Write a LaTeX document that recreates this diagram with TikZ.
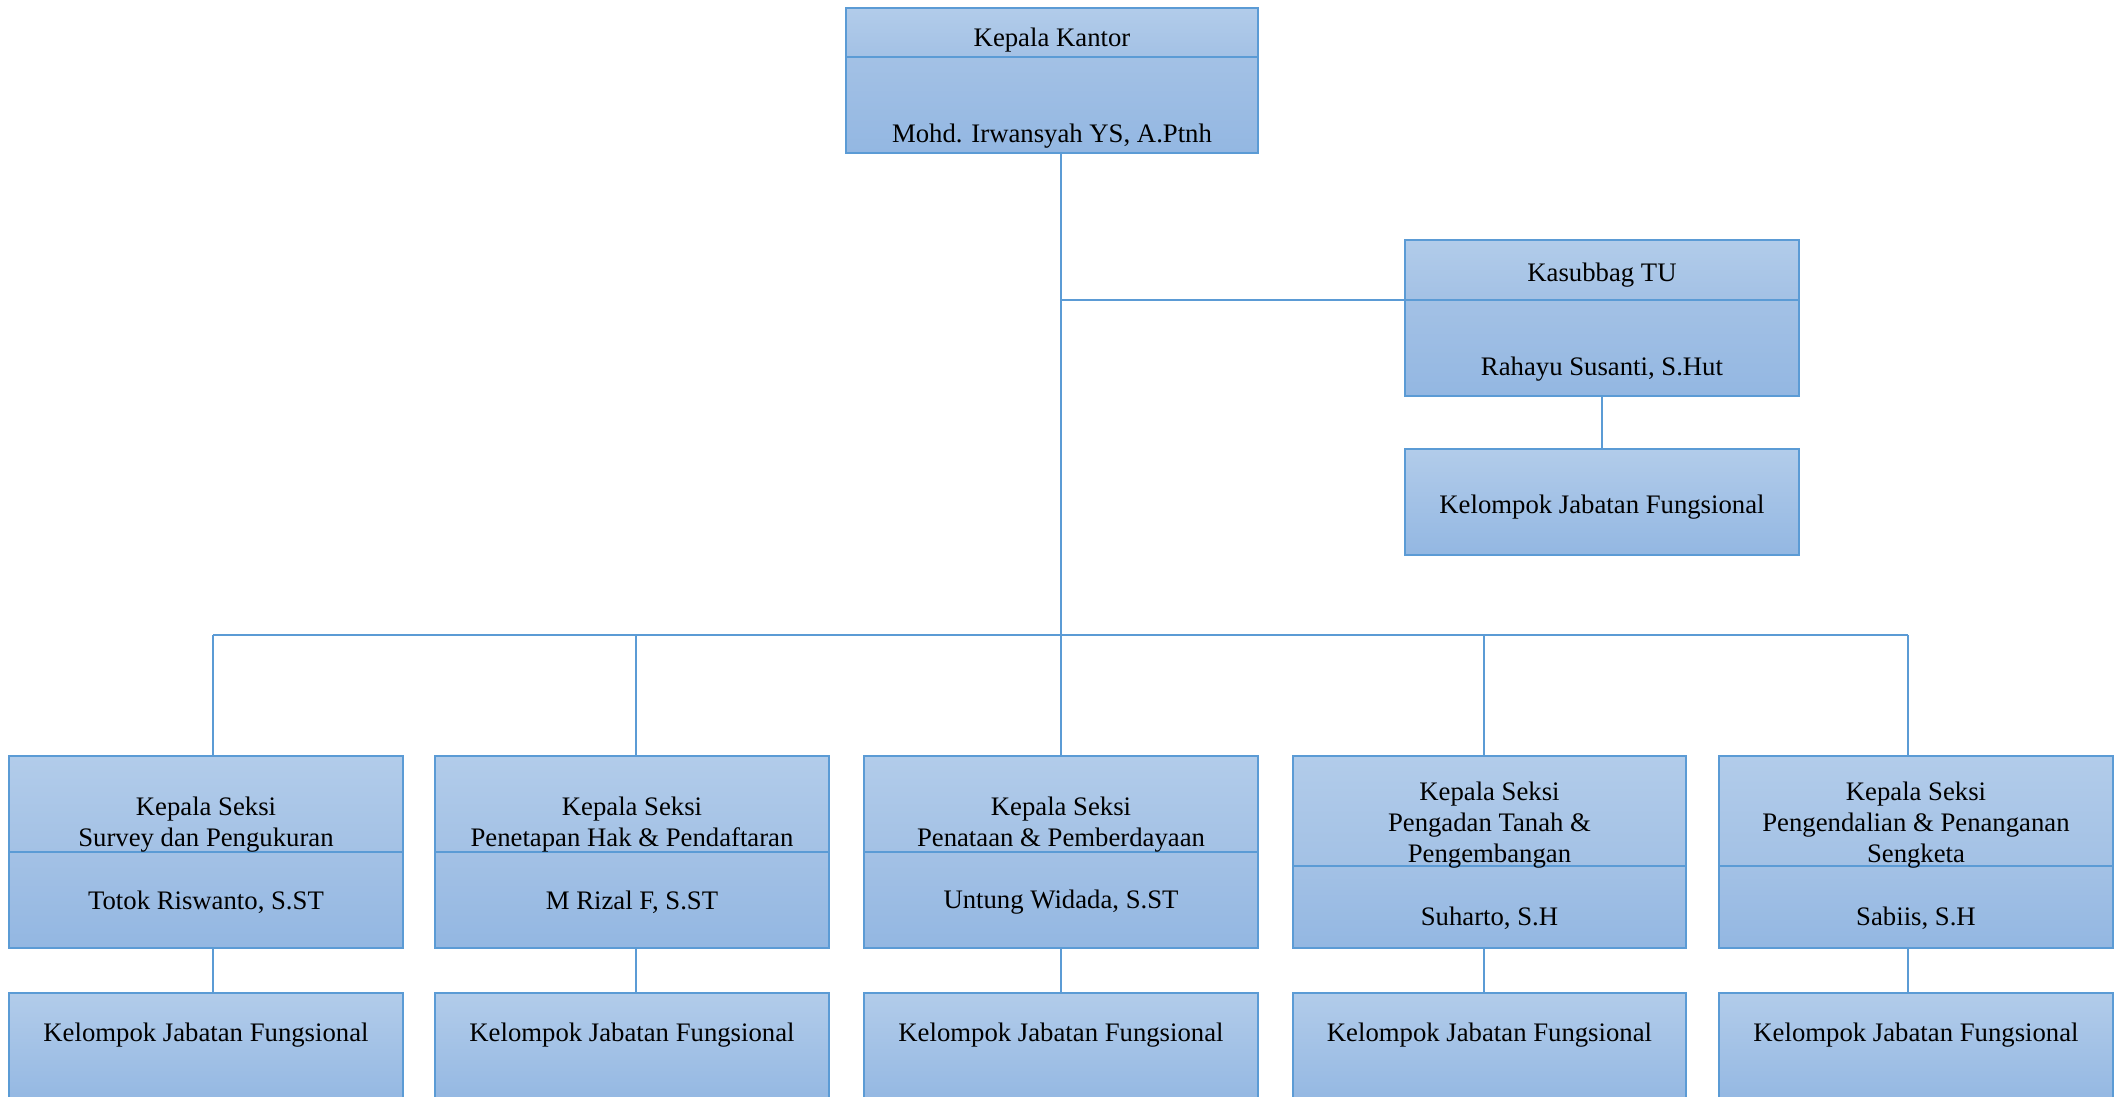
\documentclass[tikz,border=0pt]{standalone}
\usepackage{fontspec}
\setmainfont{Liberation Serif}
\usetikzlibrary{positioning}
\definecolor{boxtop}{RGB}{178,204,234}
\definecolor{boxmid}{RGB}{163,193,229}
\definecolor{boxbot}{RGB}{147,183,226}
\definecolor{boxline}{RGB}{91,155,213}

\begin{document}
\begin{tikzpicture}[
    x=0.01cm, y=-0.01cm,
    part/.style={draw=boxline, line width=0.6pt, minimum width=3.93cm, inner sep=0pt, outer sep=0pt},
    upper/.style={part, top color=boxtop, bottom color=boxmid},
    lower/.style={part, top color=boxmid, bottom color=boxbot},
    whole/.style={part, top color=boxtop, bottom color=boxbot},
    txt/.style={align=center, font=\fontsize{7.6}{8.8}\selectfont, inner sep=0pt, yshift=-0.03cm},
    link/.style={draw=boxline, line width=0.5pt}
]
\useasboundingbox (0,0) rectangle (2123,1097);
\clip (0,0) rectangle (2123,1097);

% kepala kantor
\node[upper, minimum width=4.12cm, minimum height=0.49cm] (kakanA) at (1052,32.5) {};
\node[lower, minimum width=4.12cm, minimum height=0.96cm, below=0pt of kakanA] (kakanB) {};
\node[txt] (kakanT) at (1052,37) {Kepala Kantor};
\node[txt] (kakanN) at (1052,133) {Mohd. Irwansyah YS, A.Ptnh};

% kasubbag TU
\node[upper, minimum height=0.60cm] (tuA) at (1602,270) {};
\node[lower, minimum height=0.96cm, below=0pt of tuA] (tuB) {};
\node[txt] (tuT) at (1602,272) {Kasubbag TU};
\node[txt] (tuN) at (1602,366) {Rahayu Susanti, S.Hut};
\node[whole, minimum height=1.06cm] (tuK) at (1602,502) {};
\node[txt] (tuKT) at (1602,504) {Kelompok Jabatan Fungsional};

% kepala seksi
\node[upper, minimum height=0.96cm] (s1A) at (206,804) {};
\node[lower, minimum height=0.96cm, below=0pt of s1A] (s1B) {};
\node[upper, minimum height=0.96cm] (s2A) at (632,804) {};
\node[lower, minimum height=0.96cm, below=0pt of s2A] (s2B) {};
\node[upper, minimum height=0.96cm] (s3A) at (1061,804) {};
\node[lower, minimum height=0.96cm, below=0pt of s3A] (s3B) {};
\node[upper, minimum height=1.10cm] (s4A) at (1489.5,811) {};
\node[lower, minimum height=0.82cm, below=0pt of s4A] (s4B) {};
\node[upper, minimum height=1.10cm] (s5A) at (1916,811) {};
\node[lower, minimum height=0.82cm, below=0pt of s5A] (s5B) {};

\node[txt] (s1T) at (206,822) {Kepala Seksi\\Survey dan Pengukuran};
\node[txt] (s1N) at (206,899) {Totok Riswanto, S.ST};
\node[txt] (s2T) at (632,822) {Kepala Seksi\\Penetapan Hak \& Pendaftaran};
\node[txt] (s2N) at (632,899) {M Rizal F, S.ST};
\node[txt] (s3T) at (1061,822) {Kepala Seksi\\Penataan \& Pemberdayaan};
\node[txt] (s3N) at (1061,899) {Untung Widada, S.ST};
\node[txt] (s4T) at (1489.5,822) {Kepala Seksi\\Pengadan Tanah \&\\Pengembangan};
\node[txt] (s4N) at (1489.5,915) {Suharto, S.H};
\node[txt] (s5T) at (1916,822) {Kepala Seksi\\Pengendalian \& Penanganan\\Sengketa};
\node[txt] (s5N) at (1916,915) {Sabiis, S.H};

% kelompok jabatan fungsional
\node[whole, minimum height=1.12cm] (s1K) at (206,1049) {};
\node[whole, minimum height=1.12cm] (s2K) at (632,1049) {};
\node[whole, minimum height=1.12cm] (s3K) at (1061,1049) {};
\node[whole, minimum height=1.12cm] (s4K) at (1489.5,1049) {};
\node[whole, minimum height=1.12cm] (s5K) at (1916,1049) {};
\node[txt] (s1KT) at (206,1032) {Kelompok Jabatan Fungsional};
\node[txt] (s2KT) at (632,1032) {Kelompok Jabatan Fungsional};
\node[txt] (s3KT) at (1061,1032) {Kelompok Jabatan Fungsional};
\node[txt] (s4KT) at (1489.5,1032) {Kelompok Jabatan Fungsional};
\node[txt] (s5KT) at (1916,1032) {Kelompok Jabatan Fungsional};

% garis
\coordinate (c1) at (213,635);
\coordinate (c2) at (636,635);
\coordinate (c4) at (1484,635);
\coordinate (c5) at (1908,635);
\draw[link] (s3A.north |- kakanB.south) -- (s3A.north);
\draw[link] (tuA.south west -| s3A.north) -- (tuA.south west);
\draw[link] (tuB.south) -- (tuK.north);
\draw[link] (c1) -- (c5);
\draw[link] (c1) -- (c1 |- s1A.north);
\draw[link] (c2) -- (c2 |- s2A.north);
\draw[link] (c4) -- (c4 |- s4A.north);
\draw[link] (c5) -- (c5 |- s5A.north);
\draw[link] (s1B.south -| c1) -- (s1K.north -| c1);
\draw[link] (s2B.south -| c2) -- (s2K.north -| c2);
\draw[link] (s3B.south) -- (s3K.north);
\draw[link] (s4B.south -| c4) -- (s4K.north -| c4);
\draw[link] (s5B.south -| c5) -- (s5K.north -| c5);
\end{tikzpicture}
\end{document}
